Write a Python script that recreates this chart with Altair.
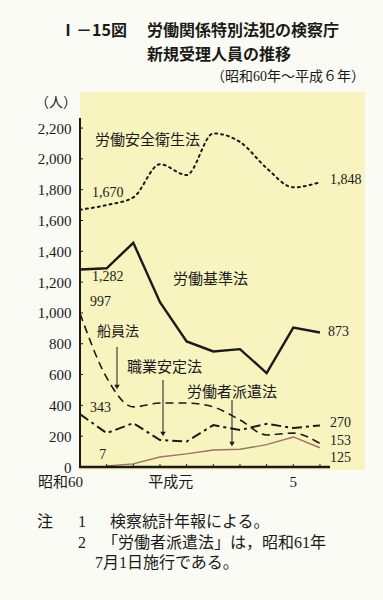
import altair as alt
import pandas as pd

# ---------------- data ----------------
years = list(range(1985, 1995))
anzen = [1670, 1700, 1750, 1965, 1895, 2165, 2110, 1940, 1815, 1848]   # 労働安全衛生法
kijun = [1282, 1290, 1455, 1070, 815, 750, 765, 610, 905, 873]        # 労働基準法
senin = [997, 580, 390, 415, 415, 390, 305, 208, 220, 153]            # 船員法
shokugyo = [343, 220, 285, 175, 165, 272, 240, 280, 253, 270]         # 職業安定法
haken = [None, 7, 20, 65, 85, 110, 115, 145, 195, 125]                # 労働者派遣法

y_ticks = [0, 200, 400, 600, 800, 1000, 1200, 1400, 1600, 1800, 2000, 2200]
x_tick_years = [1985, 1989, 1993]
x_tick_labels = ["昭和60", "平成元", "5"]

title1a = "Ⅰ－15図"
title1b = "労働関係特別法犯の検察庁"
title2 = "新規受理人員の推移"
title3 = "（昭和60年～平成６年）"
unit = "（人）"
notes = [("注", "1", "検察統計年報による。"),
         ("", "2", "「労働者派遣法」は，昭和61年")]
note_cont = "7月1日施行である。"

# ---------------- styling ----------------
W, H = 285, 375
INK = "#1c1a18"
YELLOW = "#f7f4c0"
SERIF = "Liberation Serif, Noto Sans CJK JP"
SANS = "Noto Sans CJK JP"

xscale = alt.Scale(domain=[1985, 1995.69], nice=False, zero=False)
yscale = alt.Scale(domain=[0, 2434], nice=False, zero=True)
yaxis = alt.Axis(values=y_ticks, labelExpr="format(datum.value, ',d')",
                 domain=False, ticks=False, grid=False,
                 labelFont="Liberation Serif", labelFontSize=15, labelColor=INK,
                 labelPadding=9, title=None)


def X(field):
    return alt.X(field, type="quantitative", scale=xscale, axis=None)


def Y(field):
    return alt.Y(field, type="quantitative", scale=yscale, axis=yaxis)


one = pd.DataFrame({"a": [0]})


def txt(s, x, y, size=14, font=SERIF, align="left", weight="normal", **kw):
    return alt.Chart(one).mark_text(text=s, align=align, baseline="middle",
                                    fontSize=size, font=font, fontWeight=weight,
                                    color=INK, **kw).encode(x=alt.value(x), y=alt.value(y))


def dlabel(s, yr, val, dx, dy, align="left"):
    return alt.Chart(one).mark_text(text=s, align=align, baseline="middle", dx=dx, dy=dy,
                                    fontSize=14, font="Liberation Serif", color=INK).encode(
        x=alt.XDatum(yr, scale=xscale, axis=None),
        y=alt.YDatum(val, scale=yscale, axis=yaxis))


def series(vals, **mk):
    df = pd.DataFrame({"year": years, "v": vals}).dropna()
    return alt.Chart(df).mark_line(color=INK, **mk).encode(x=X("year"), y=Y("v"))


layers = []
# background
layers.append(alt.Chart(one).mark_rect(color=YELLOW).encode(
    x=alt.value(0), x2=alt.value(W), y=alt.value(0), y2=alt.value(H + 3)))

# series
layers.append(series(anzen, strokeWidth=2, strokeDash=[2, 4], strokeCap="round",
                     interpolate="monotone"))
layers.append(series(kijun, strokeWidth=2.4))
layers.append(series(senin, strokeWidth=1.6, strokeDash=[8, 5], interpolate="monotone"))
layers.append(series(shokugyo, strokeWidth=2, strokeDash=[10, 4, 3, 4]))
layers.append(alt.Chart(pd.DataFrame({"year": years, "v": haken}).dropna())
              .mark_line(color="#9a7464", strokeWidth=1.4)
              .encode(x=X("year"), y=Y("v")))

# axes (drawn)
layers.append(alt.Chart(pd.DataFrame({"v": y_ticks})).mark_rule(color=INK, strokeWidth=1)
              .encode(x=alt.value(0), x2=alt.value(3), y=Y("v")))
layers.append(alt.Chart(pd.DataFrame({"year": years})).mark_rule(color=INK, strokeWidth=1)
              .encode(x=X("year"), y=alt.value(H), y2=alt.value(H - 3)))
layers.append(alt.Chart(one).mark_rule(color=INK, strokeWidth=2)
              .encode(x=alt.value(0), y=alt.value(26), y2=alt.value(H)))
layers.append(alt.Chart(one).mark_rule(color=INK, strokeWidth=2.6)
              .encode(x=alt.value(-1), x2=alt.value(250), y=alt.value(H)))

# x labels
x_dx = [3, -16, 0]
x_align = ["right", "center", "center"]
for yr, lab, dx, al in zip(x_tick_years, x_tick_labels, x_dx, x_align):
    layers.append(alt.Chart(one).mark_text(text=lab, align=al, baseline="middle", dx=dx,
                                           fontSize=15, font=SERIF, color=INK).encode(
        x=alt.XDatum(yr, scale=xscale, axis=None), y=alt.value(H + 15)))

# data labels
layers.append(dlabel(f"{anzen[0]:,}", years[0], anzen[0], 12, -17))
layers.append(dlabel(f"{kijun[0]:,}", years[0], kijun[0], 12, 8))
layers.append(dlabel(f"{senin[0]:,}", years[0], senin[0], 10, -11))
layers.append(dlabel(f"{shokugyo[0]:,}", years[0], shokugyo[0], 10, -6))
layers.append(dlabel(f"{haken[1]:,}", years[1], haken[1], -4, -11, align="center"))
layers.append(dlabel(f"{anzen[-1]:,}", years[-1], anzen[-1], 10, -2))
layers.append(dlabel(f"{kijun[-1]:,}", years[-1], kijun[-1], 8, 0))
layers.append(dlabel(f"{shokugyo[-1]:,}", years[-1], shokugyo[-1], 10, -2))
layers.append(dlabel(f"{senin[-1]:,}", years[-1], senin[-1], 10, -2))
layers.append(dlabel(f"{haken[-1]:,}", years[-1], haken[-1], 10, 10))

# series names
layers.append(txt("労働安全衛生法", 15, 48, size=15, font=SANS))
layers.append(txt("労働基準法", 93, 187, size=15, font=SANS))
layers.append(txt("船員法", 17, 240, size=14, font=SANS))
layers.append(txt("職業安定法", 47, 275, size=15, font=SANS))
layers.append(txt("労働者派遣法", 107, 300, size=15, font=SANS))

# arrows
for ax, y1, y2 in [(37, 255, 298), (83, 288, 345), (152, 308, 355)]:
    layers.append(alt.Chart(one).mark_rule(color=INK, strokeWidth=1)
                  .encode(x=alt.value(ax), y=alt.value(y1), y2=alt.value(y2 - 3)))
    layers.append(alt.Chart(one).mark_point(shape="triangle-down", filled=True, size=30,
                                            color=INK, opacity=1)
                  .encode(x=alt.value(ax), y=alt.value(y2 - 3)))

# unit & titles
layers.append(txt(unit, -24, 11, size=14, font=SANS, align="center"))
layers.append(txt(title1a, -20, -61, size=16, font=SANS, weight="bold"))
layers.append(txt(title1b, 67, -61, size=16, font=SANS, weight="bold"))
layers.append(txt(title2, 67, -37, size=16, font=SANS, weight="bold"))
layers.append(txt(title3, 285, -15, size=14, font=SERIF, align="right"))

# notes
for i, (a, b, c) in enumerate(notes):
    yy = 430 + 21 * i
    if a:
        layers.append(txt(a, -43, yy, size=16, font=SANS))
    layers.append(txt(b, -2, yy, size=16, font=SERIF))
    layers.append(txt(c, 22 if i else 30, yy, size=16, font=SERIF))
layers.append(txt(note_cont, 15, 471, size=16, font=SERIF))

chart = alt.layer(*layers).properties(
    width=W, height=H,
    autosize=alt.AutoSizeParams(type="none"),
    padding={"left": 80, "top": 92, "right": 18, "bottom": 133},
    background="#fbfbf6",
).configure_view(stroke=None)

chart.save("out.html", embed_options={"renderer": "svg", "actions": False})
